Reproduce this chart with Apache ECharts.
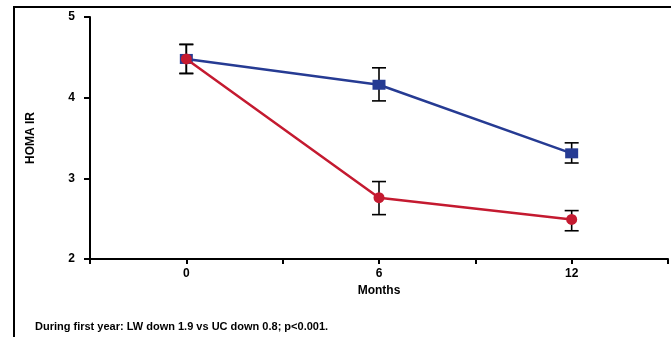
<!DOCTYPE html>
<html>
<head>
<meta charset="utf-8">
<script src="https://cdn.jsdelivr.net/npm/echarts@6/dist/echarts.min.js"></script>
<style>
  html, body { margin: 0; padding: 0; background: #fff; }
  #chart { width: 671px; height: 337px; }
</style>
</head>
<body>
<div id="chart"></div>
<script>
const months = [0, 6, 12]
const shownTicks = [0, 6, 12]
const blueMean = [4.48, 4.16, 3.31]
const blueLow = [4.30, 3.96, 3.19]
const blueHigh = [4.66, 4.37, 3.44]
const redMean = [4.48, 2.76, 2.49]
const redLow = [4.30, 2.55, 2.35]
const redHigh = [4.66, 2.96, 2.60]
const footnote = 'During first year: LW down 1.9 vs UC down 0.8; p<0.001.'

const font = 'Liberation Sans, Arial, sans-serif'

const errData = months.map((m, i) => [m, blueLow[i], blueHigh[i]])
  .concat(months.map((m, i) => [m, redLow[i], redHigh[i]]))

const chart = echarts.init(document.getElementById('chart'))

chart.setOption({
  animation: false,
  grid: { left: 90, right: 2, top: 17, bottom: 78 },
  graphic: [
    {
      type: 'polyline',
      shape: { points: [[14, 340], [14, 7], [675, 7]] },
      style: { stroke: '#000', lineWidth: 2, fill: null },
    },
    {
      type: 'text',
      left: 35,
      top: 321,
      style: { text: footnote, font: 'bold 11px ' + font, fill: '#000' },
    },
  ],
  xAxis: {
    type: 'value',
    min: -3,
    max: 15,
    interval: 3,
    name: 'Months',
    nameLocation: 'middle',
    nameGap: 24,
    nameTextStyle: { fontFamily: font, fontWeight: 'bold', fontSize: 12, color: '#000' },
    splitLine: { show: false },
    axisLine: { onZero: false, lineStyle: { color: '#000', width: 2 } },
    axisTick: { length: 5, lineStyle: { color: '#000', width: 2 } },
    axisLabel: {
      margin: 9,
      fontFamily: font,
      fontWeight: 'bold',
      fontSize: 12,
      color: '#000',
      formatter: (v) => (shownTicks.includes(v) ? String(v) : ''),
    },
  },
  yAxis: {
    type: 'value',
    min: 2,
    max: 5,
    interval: 1,
    name: 'HOMA IR',
    nameLocation: 'middle',
    nameGap: 53,
    nameRotate: 90,
    nameTextStyle: { fontFamily: 'Liberation Sans Narrow, ' + font, fontWeight: 'bold', fontSize: 12, color: '#000' },
    splitLine: { show: false },
    axisLine: { show: true, onZero: false, lineStyle: { color: '#000', width: 2 } },
    axisTick: { show: true, length: 6, lineStyle: { color: '#000', width: 2 } },
    axisLabel: {
      margin: 15,
      fontFamily: font,
      fontWeight: 'bold',
      fontSize: 12,
      color: '#000',
    },
  },
  series: [
    {
      type: 'custom',
      z: 1,
      data: errData,
      renderItem(params, api) {
        const x = api.value(0)
        const lo = api.coord([x, api.value(1)])
        const hi = api.coord([x, api.value(2)])
        const w = 7
        const style = { stroke: '#000', lineWidth: 1.6 }
        return {
          type: 'group',
          children: [
            { type: 'line', shape: { x1: lo[0], y1: lo[1], x2: hi[0], y2: hi[1] }, style },
            { type: 'line', shape: { x1: lo[0] - w, y1: lo[1], x2: lo[0] + w, y2: lo[1] }, style },
            { type: 'line', shape: { x1: hi[0] - w, y1: hi[1], x2: hi[0] + w, y2: hi[1] }, style },
          ],
        }
      },
    },
    {
      type: 'line',
      z: 2,
      data: months.map((m, i) => [m, blueMean[i]]),
      symbol: 'rect',
      symbolSize: [13, 10],
      itemStyle: { color: '#263B93' },
      lineStyle: { color: '#263B93', width: 2.5 },
    },
    {
      type: 'line',
      z: 3,
      data: months.map((m, i) => [m, redMean[i]]),
      symbol: 'circle',
      symbolSize: 11,
      itemStyle: { color: '#C41A30' },
      lineStyle: { color: '#C41A30', width: 2.5 },
    },
  ],
})
</script>
</body>
</html>
